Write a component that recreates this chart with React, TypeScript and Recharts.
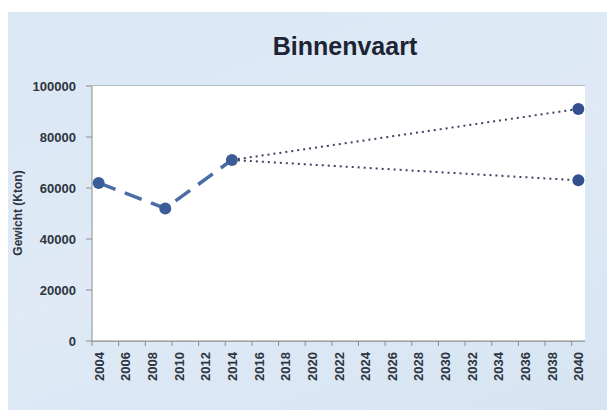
import React from 'react';
import { ComposedChart, Line, XAxis, YAxis, CartesianGrid } from 'recharts';

const years = [
  2004, 2005, 2006, 2007, 2008, 2009, 2010, 2011, 2012, 2013, 2014, 2015, 2016,
  2017, 2018, 2019, 2020, 2021, 2022, 2023, 2024, 2025, 2026, 2027, 2028, 2029,
  2030, 2031, 2032, 2033, 2034, 2035, 2036, 2037, 2038, 2039, 2040,
];

const historicalYears = [2004, 2009, 2014];
const historicalValues = [62000, 52000, 71000];

const highYears = [2014, 2040];
const highValues = [71000, 91000];

const lowYears = [2014, 2040];
const lowValues = [71000, 63000];

const yTicks = [0, 20000, 40000, 60000, 80000, 100000];

const pick = (ys: number[], vs: number[], y: number) => {
  const i = ys.indexOf(y);
  return i >= 0 ? vs[i] : null;
};

const data = years.map((year) => ({
  year,
  historical: pick(historicalYears, historicalValues, year),
  high: pick(highYears, highValues, year),
  low: pick(lowYears, lowValues, year),
}));

const CHART_W = 607;
const CHART_H = 398;
const margin = { top: 74, right: 30, bottom: 29, left: 8 };
const Y_AXIS_W = 76;
const plotWidth = CHART_W - margin.left - margin.right - Y_AXIS_W;
const band = plotWidth / years.length;

const font = '"Liberation Sans", Arial, sans-serif';
const textColor = '#2e3440';
const axisColor = '#8c8c8c';

const YearTick = (props: any) => {
  const { x, y, payload } = props;
  return (
    <g>
      <line x1={x - band / 2} x2={x - band / 2} y1={y} y2={y + 5} stroke={axisColor} strokeWidth={1} />
      <text
        transform={`translate(${x + 5}, ${y + 11}) rotate(-90)`}
        textAnchor="end"
        fontFamily={font}
        fontSize={13}
        fontWeight="bold"
        fill={textColor}
      >
        {payload.value}
      </text>
    </g>
  );
};

const EndDot = (color: string) => (props: any) => {
  const { cx, cy, payload, index } = props;
  if (cx == null || cy == null || payload.year === 2014) return <g key={index} />;
  return <circle key={index} cx={cx} cy={cy} r={6} fill={color} />;
};

export default function App() {
  return (
    <div
      style={{
        position: 'relative',
        width: CHART_W,
        height: CHART_H,
        marginTop: 4,
        background: 'linear-gradient(160deg, #dae7f4 0%, #dfeaf6 50%, #d6e4f2 100%)',
      }}
    >
      <div
        style={{
          position: 'absolute',
          left: 0,
          width: 674,
          top: 20,
          textAlign: 'center',
          fontFamily: font,
          fontWeight: 'bold',
          fontSize: 25,
          color: '#1d2433',
        }}
      >
        Binnenvaart
      </div>
      <div
        style={{
          position: 'absolute',
          left: 10,
          top: 201,
          transform: 'translate(-50%, -50%) rotate(-90deg)',
          whiteSpace: 'nowrap',
          fontFamily: font,
          fontWeight: 'bold',
          fontSize: 12,
          color: textColor,
        }}
      >
        Gewicht (Kton)
      </div>
      <ComposedChart width={CHART_W} height={CHART_H} data={data} margin={margin}>
        <rect x={margin.left + Y_AXIS_W} y={margin.top} width={plotWidth} height={CHART_H - margin.top - margin.bottom - 40} fill="#ffffff" />
        <CartesianGrid vertical={false} stroke={axisColor} strokeWidth={1} />
        <XAxis
          dataKey="year"
          type="category"
          scale="band"
          interval={1}
          height={40}
          tickSize={0}
          tickMargin={0}
          tickLine={false}
          axisLine={{ stroke: axisColor }}
          tick={<YearTick />}
        />
        <YAxis
          width={Y_AXIS_W}
          domain={[0, 100000]}
          ticks={yTicks}
          interval={0}
          tickSize={6}
          tickMargin={10}
          axisLine={{ stroke: axisColor }}
          tickLine={{ stroke: axisColor }}
          tick={{ fontFamily: font, fontSize: 13, fontWeight: 'bold', fill: textColor }}
        />
        <Line
          dataKey="high"
          stroke="#3b4560"
          strokeWidth={2}
          strokeDasharray="2 4"
          connectNulls
          dot={EndDot('#33508e')}
          isAnimationActive={false}
        />
        <Line
          dataKey="low"
          stroke="#3b4560"
          strokeWidth={2}
          strokeDasharray="2 4"
          connectNulls
          dot={EndDot('#33508e')}
          isAnimationActive={false}
        />
        <Line
          dataKey="historical"
          stroke="#4a6da6"
          strokeWidth={3.5}
          strokeDasharray="18 10"
          connectNulls
          dot={{ r: 6, fill: '#3a5d98', stroke: 'none' }}
          isAnimationActive={false}
        />
      </ComposedChart>
    </div>
  );
}
